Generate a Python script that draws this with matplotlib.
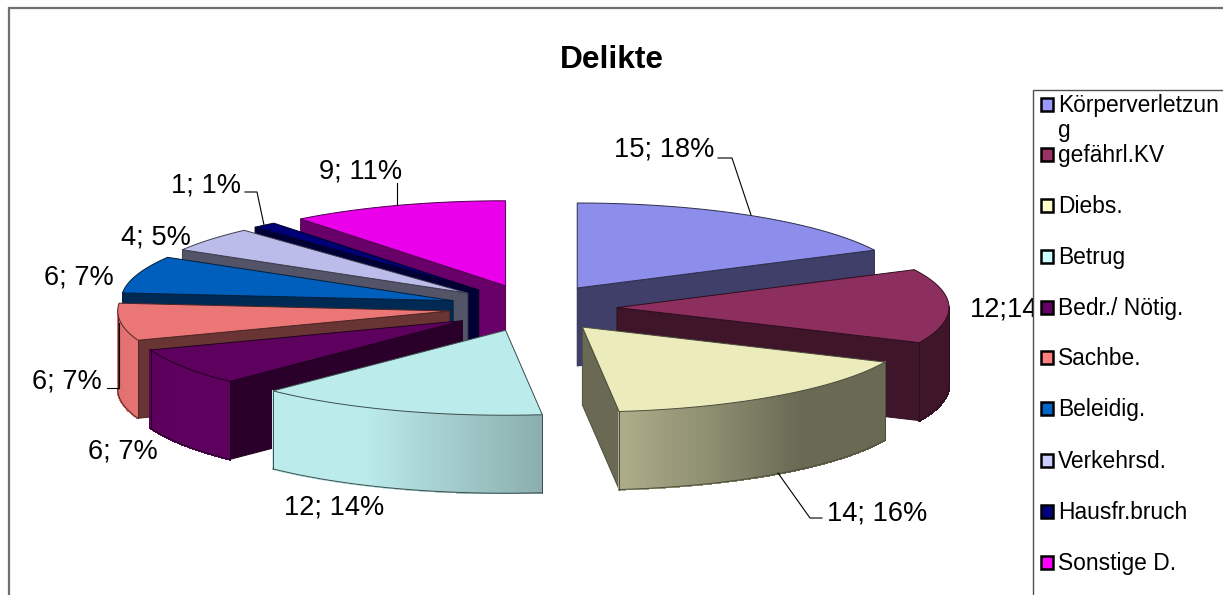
import numpy as np
import matplotlib
matplotlib.use('Agg')
import matplotlib.pyplot as plt
from matplotlib.collections import PolyCollection
from matplotlib.colors import to_rgb
from matplotlib.patches import Rectangle

plt.rcParams['font.family'] = ['Liberation Sans', 'DejaVu Sans']

categories = ['Körperverletzung', 'gefährl.KV', 'Diebs.', 'Betrug', 'Bedr./ Nötig.',
              'Sachbe.', 'Beleidig.', 'Verkehrsd.', 'Hausfr.bruch', 'Sonstige D.']
values = [15, 12, 14, 12, 6, 6, 6, 4, 1, 9]
colors = ['#9999FF', '#993366', '#FFFFCC', '#CCFFFF', '#660066',
          '#FF8080', '#0066CC', '#CCCCFF', '#000080', '#FF00FF']
legend_labels = ['Körperverletzun\ng', 'gefährl.KV', 'Diebs.', 'Betrug', 'Bedr./ Nötig.',
                 'Sachbe.', 'Beleidig.', 'Verkehrsd.', 'Hausfr.bruch', 'Sonstige D.']

# back slices first, so the ones nearer the viewer overlap them
draw_order = [0, 1, 2, 9, 8, 7, 6, 5, 4, 3]

# pie geometry in pixels
cx, cy = 533, 308
rx, ry = 332, 85
depth = 78
explode = 84
tilt = 0.28

fig = plt.figure(figsize=(12.23, 5.95), dpi=100)
ax = fig.add_axes([0, 0, 1, 1])
ax.set_xlim(0, 1223)
ax.set_ylim(595, 0)
ax.axis('off')

# chart frame, runs off the right and bottom edge
ax.add_patch(Rectangle((8.5, 8), 1300, 700, fc='white', ec='#707070', lw=1.6, zorder=0))


def shade(color, f):
    return tuple(min(1, c * f) for c in to_rgb(color))


def wall_light(a):
    # lighting of the outer wall depending on the angle
    return np.interp(a, [139, 205, 240, 270], [0.41, 0.92, 0.92, 0.87])


def rim(px, py, a):
    r = np.radians(a)
    return px + rx * np.sin(r), py - ry * np.cos(r)


total = sum(values)
edges = np.concatenate([[0], np.cumsum(values)]) * 360.0 / total

z = 2
for i in draw_order:
    a1, a2 = edges[i], edges[i + 1]
    mid = np.radians((a1 + a2) / 2)
    px = cx + explode * np.sin(mid)
    py = cy - explode * tilt * np.cos(mid)
    col = colors[i]
    line = shade(col, 0.3)
    ang = np.linspace(a1, a2, 90)
    xs, ys = rim(px, py, ang)

    # radial faces that look towards the viewer
    for a, show in [(a1, np.sin(np.radians(a1)) < 0), (a2, np.sin(np.radians(a2)) > 0)]:
        if show:
            ex, ey = rim(px, py, a)
            ax.fill([px, ex, ex, px], [py, ey, ey + depth, py + depth],
                    fc=shade(col, 0.41), ec=line, lw=0.7, zorder=z)

    # outer wall, cut in small quads for the colour gradient
    lo, hi = max(a1, 90), min(a2, 270)
    if lo < hi:
        wa = np.linspace(lo, hi, 80)
        wx, wy = rim(px, py, wa)
        quads = [[(wx[k], wy[k]), (wx[k + 1], wy[k + 1]),
                  (wx[k + 1], wy[k + 1] + depth), (wx[k], wy[k] + depth)]
                 for k in range(len(wa) - 1)]
        fc = [shade(col, wall_light((wa[k] + wa[k + 1]) / 2)) for k in range(len(wa) - 1)]
        ax.add_collection(PolyCollection(quads, facecolors=fc, edgecolors=fc, linewidths=1.0,
                                         antialiaseds=False, zorder=z))
        ax.plot(wx, wy + depth, color=line, lw=0.7, zorder=z)
        ax.plot([wx[0], wx[0]], [wy[0], wy[0] + depth], color=line, lw=0.7, zorder=z)
        ax.plot([wx[-1], wx[-1]], [wy[-1], wy[-1] + depth], color=line, lw=0.7, zorder=z)

    # top of the slice
    ax.fill(np.r_[px, xs], np.r_[py, ys], fc=shade(col, 0.92), ec=line, lw=0.7, zorder=z)
    z += 1

# data labels, right-aligned or left-aligned next to their leader lines
label_text = [f'{v}; {round(100 * v / total)}%' for v in values]
label_text[1] = label_text[1].replace(' ', '')
label_pos = [(714, 150, 'right'), (970, 310, 'left'), (827, 513, 'left'), (284, 507, 'left'),
             (88, 451, 'left'), (32, 382, 'left'), (44, 277, 'left'), (121, 237, 'left'),
             (171, 186, 'left'), (319, 171, 'left')]
for txt, (tx, ty, ha) in zip(label_text, label_pos):
    ax.text(tx, ty, txt, fontsize=19.6, ha=ha, va='center', color='black', zorder=20)

leaders = [([718, 732, 751], [158, 158, 215]),
           ([822, 810, 778], [518, 518, 473]),
           ([397, 397], [183, 205]),
           ([245, 257, 264], [192, 192, 225]),
           ([107, 119, 119], [388, 388, 323])]
for lx, ly in leaders:
    ax.plot(lx, ly, color='black', lw=0.8, zorder=21)

ax.text(612, 59.5, 'Delikte', fontsize=22.8, fontweight='bold', ha='center', va='center', zorder=20)

# legend box, covers whatever reaches into it
ax.add_patch(Rectangle((1033, 90), 300, 600, fc='white', ec='#505050', lw=1.0, zorder=30))
legend_y = [104, 154, 205, 256, 307, 357, 408, 460, 511, 562]
for lab, col, ly in zip(legend_labels, colors, legend_y):
    ax.add_patch(Rectangle((1040.5, ly - 6.5), 12.5, 13, fc=col, ec='black', lw=1.8, zorder=31))
    first = lab.split('\n')
    ax.text(1058, ly + 1.5, first[0], fontsize=16.4, ha='left', va='center', zorder=31)
    if len(first) > 1:
        ax.text(1058, ly + 26.5, first[1], fontsize=16.4, ha='left', va='center', zorder=31)

fig.savefig('out.png', dpi=100)
